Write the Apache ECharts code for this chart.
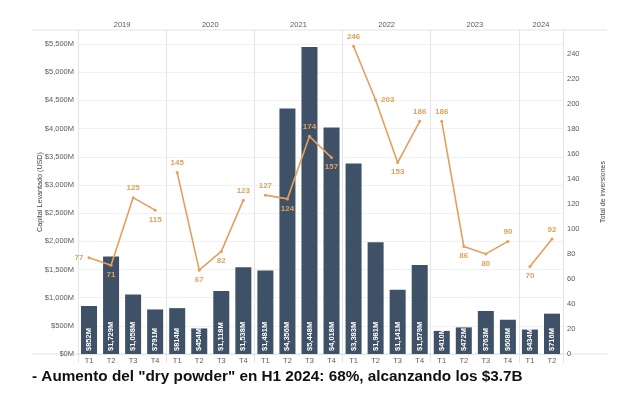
<!DOCTYPE html>
<html>
<head>
<meta charset="utf-8">
<script src="https://cdn.jsdelivr.net/npm/echarts@6/dist/echarts.min.js"></script>
<style>
html,body{margin:0;padding:0;background:#fff;}
#chart{width:623px;height:398px;}
</style>
</head>
<body>
<div id="chart"></div>
<script>
// ---- data ----
const years = ['2019', '2020', '2021', '2022', '2023', '2024'];
const quarters = ['T1','T2','T3','T4','T1','T2','T3','T4','T1','T2','T3','T4','T1','T2','T3','T4','T1','T2','T3','T4','T1','T2'];
const capital = [852, 1729, 1058, 791, 814, 454, 1118, 1538, 1481, 4356, 5448, 4018, 3383, 1981, 1141, 1579, 410, 472, 763, 608, 434, 716];
const deals2019 = [77, 71, 125, 115];
const deals2020 = [145, 67, 82, 123];
const deals2021 = [127, 124, 174, 157];
const deals2022 = [246, 203, 153, 186];
const deals2023 = [186, 86, 80, 90];
const deals2024 = [70, 92];
const leftTicks = [0, 500, 1000, 1500, 2000, 2500, 3000, 3500, 4000, 4500, 5000, 5500];
const rightTicks = [0, 20, 40, 60, 80, 100, 120, 140, 160, 180, 200, 220, 240];
const subtitle = '- Aumento del "dry powder" en H1 2024: 68%, alcanzando los $3.7B';

// ---- styles ----
const dealsByYear = [deals2019, deals2020, deals2021, deals2022, deals2023, deals2024];
const labelPos = ['left','bottom','top','bottom','top','bottom','bottom','top','top','bottom','top','bottom','top','right','bottom','top','top','bottom','bottom','top','bottom','top'];
const BAR = '#3e5166';
const ORANGE = '#e2a05c';
const TXT = '#5a5a5a';
const GRIDC = '#e4e4e4';
const FONT = 'Liberation Sans, Arial, sans-serif';

const nCat = quarters.length;
// year boundaries / centres from counts
const yearCentres = [];
const yearMap = {};
let start = 0;
dealsByYear.forEach((d, i) => {
  const c = start + d.length / 2;
  yearCentres.push(c);
  yearMap[c] = years[i];
  start += d.length;
});

const lineSeries = [];
start = 0;
dealsByYear.forEach((d, yi) => {
  const arr = new Array(nCat).fill('-');
  d.forEach((v, k) => {
    const idx = start + k;
    arr[idx] = {value: v, label: {position: labelPos[idx]}};
  });
  start += d.length;
  lineSeries.push({
    type: 'line',
    name: years[yi],
    xAxisIndex: 0,
    yAxisIndex: 1,
    data: arr,
    connectNulls: false,
    symbol: 'circle',
    symbolSize: 3,
    lineStyle: {color: ORANGE, width: 1.6},
    itemStyle: {color: ORANGE},
    label: {show: true, color: ORANGE, fontWeight: 'bold', fontSize: 8, fontFamily: FONT, distance: 4},
    z: 5
  });
});

const chart = echarts.init(document.getElementById('chart'), null, {renderer: 'canvas'});
const gLeft = 78, gRight = 60, gTop = 30, gBottom = 44;
chart.setOption({
  animation: false,
  backgroundColor: '#fff',
  title: {
    text: subtitle,
    left: 32, top: 369, padding: 0,
    textStyle: {fontSize: 15.3, fontWeight: 'bold', color: '#111', fontFamily: FONT}
  },
  graphic: [
    {type: 'line', shape: {x1: 32, y1: gTop, x2: 607, y2: gTop}, style: {stroke: GRIDC, lineWidth: 1}, z: 0},
    {type: 'line', shape: {x1: 32, y1: 398 - gBottom, x2: 607, y2: 398 - gBottom}, style: {stroke: GRIDC, lineWidth: 1}, z: 0}
  ],
  grid: {left: gLeft, right: gRight, top: gTop, bottom: gBottom, containLabel: false},
  xAxis: [
    {
      type: 'category', data: quarters, position: 'bottom', gridIndex: 0,
      axisLine: {show: false}, axisTick: {show: false},
      axisLabel: {color: TXT, fontSize: 7.5, fontFamily: FONT, margin: 3, interval: 0}
    },
    {
      type: 'value', position: 'top', gridIndex: 0, min: 0, max: nCat, interval: 4,
      axisLine: {show: true, lineStyle: {color: GRIDC}},
      axisTick: {show: true, length: 10, lineStyle: {color: GRIDC}},
      splitLine: {show: true, lineStyle: {color: GRIDC, width: 1}},
      axisLabel: {
        show: true, customValues: yearCentres, color: TXT, fontSize: 7.5, fontFamily: FONT, margin: 1,
        formatter: v => yearMap[v] || ''
      }
    },
    {
      type: 'value', position: 'bottom', gridIndex: 0, min: 0, max: nCat, interval: 4,
      axisLine: {show: true, lineStyle: {color: GRIDC}},
      axisTick: {show: true, length: 9, lineStyle: {color: GRIDC}},
      splitLine: {show: false},
      axisLabel: {show: false}
    }
  ],
  yAxis: [
    {
      type: 'value', position: 'left', min: 0, max: 5750, interval: 500,
      name: 'Capital Levantado (USD)', nameLocation: 'middle', nameGap: 34, nameRotate: 90, nameMoveOverlap: false,
      nameTextStyle: {color: '#444', fontSize: 7.2, fontFamily: FONT},
      axisLine: {show: false}, axisTick: {show: false},
      splitLine: {show: true, lineStyle: {color: '#f1f1f1', width: 1}},
      axisLabel: {
        color: TXT, fontSize: 7.5, fontFamily: FONT, margin: 4,
        customValues: leftTicks,
        formatter: v => '$' + v.toLocaleString('en-US') + 'M'
      }
    },
    {
      type: 'value', position: 'right', min: 0, max: 259, interval: 20,
      name: 'Total de inversiones', nameLocation: 'middle', nameGap: 37, nameRotate: 90, nameMoveOverlap: false,
      nameTextStyle: {color: '#444', fontSize: 7, fontFamily: FONT},
      axisLine: {show: false}, axisTick: {show: false}, splitLine: {show: false},
      axisLabel: {color: TXT, fontSize: 7.5, fontFamily: FONT, margin: 4, customValues: rightTicks}
    }
  ],
  series: [
    {
      type: 'bar', xAxisIndex: 0, yAxisIndex: 0, data: capital, barWidth: 16,
      itemStyle: {color: BAR},
      label: {
        show: true, position: 'insideBottom', rotate: 90, align: 'left', verticalAlign: 'middle', distance: 3,
        color: '#fff', fontWeight: 'bold', fontSize: 7.5, fontFamily: FONT,
        formatter: p => '$' + p.value.toLocaleString('en-US') + 'M'
      },
      z: 2
    }
  ].concat(lineSeries)
});
</script>
</body>
</html>
